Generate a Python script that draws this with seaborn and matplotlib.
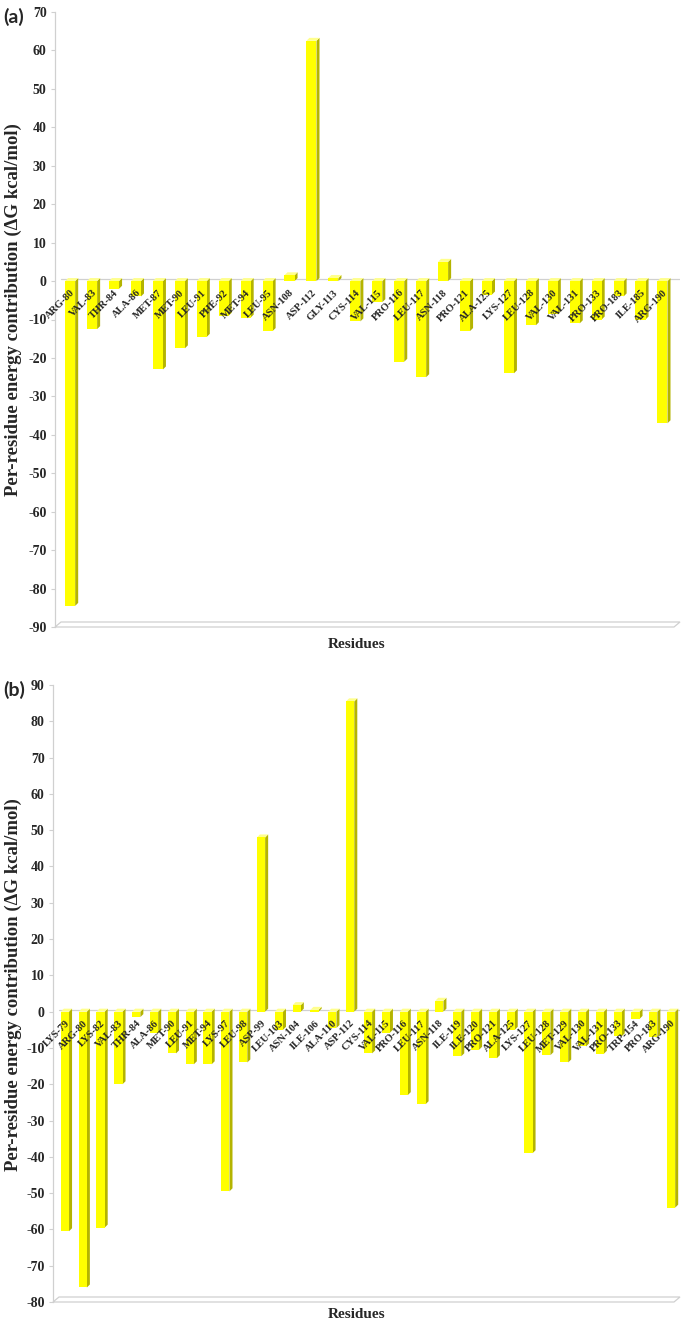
import matplotlib
matplotlib.use("Agg")
import matplotlib.pyplot as plt
from matplotlib.patches import Polygon
import seaborn as sns
import pandas as pd

# panel (a)
residues_a = ["ARG-80", "VAL-83", "THR-84", "ALA-86", "MET-87", "MET-90", "LEU-91",
              "PHE-92", "MET-94", "LEU-95", "ASN-108", "ASP-112", "GLY-113", "CYS-114",
              "VAL-115", "PRO-116", "LEU-117", "ASN-118", "PRO-121", "ALA-125", "LYS-127",
              "LEU-128", "VAL-130", "VAL-131", "PRO-133", "PRO-183", "ILE-185", "ARG-190"]
energy_a = [-84.5, -12.5, -2.0, -4.0, -23.0, -17.5, -14.5,
            -9.0, -9.5, -13.0, 1.5, 62.5, 0.8, -10.5,
            -5.5, -21.0, -25.0, 5.0, -13.0, -3.5, -24.0,
            -11.5, -8.5, -11.0, -10.0, -4.0, -10.0, -37.0]

# panel (b)
residues_b = ["LYS-79", "ARG-80", "LYS-82", "VAL-83", "THR-84", "ALA-86", "MET-90",
              "LEU-91", "MET-94", "LYS-97", "LEU-98", "ASP-99", "LEU-103", "ASN-104",
              "ILE-106", "ALA-110", "ASP-112", "CYS-114", "VAL-115", "PRO-116", "LEU-117",
              "ASN-118", "ILE-119", "ILE-120", "PRO-121", "ALA-125", "LYS-127", "LEU-128",
              "MET-129", "VAL-130", "VAL-131", "PRO-133", "TRP-154", "PRO-183", "ARG-190"]
energy_b = [-60.5, -76.0, -59.5, -20.0, -1.5, -6.0, -11.5,
            -14.5, -14.5, -49.5, -14.0, 48.0, -5.0, 1.8,
            0.5, -4.5, 85.5, -11.5, -5.8, -23.0, -25.5,
            3.0, -12.3, -10.5, -12.8, -5.0, -39.0, -12.0,
            -14.0, -9.6, -11.6, -6.8, -2.0, -7.0, -54.0]

W, H = 683, 1323
FRONT = "#ffff00"
SIDE = "#b4b400"
TOP = "#ffff8c"
GREY = "#d0d0d0"

sns.set_style("white")
plt.rcParams["font.family"] = ["Liberation Serif", "DejaVu Serif"]
plt.rcParams["font.weight"] = "bold"
plt.rcParams["axes.unicode_minus"] = False

fig = plt.figure(figsize=(W / 100, H / 100), dpi=100)


def box(left, top, right, bottom):
    return [left / W, 1 - bottom / H, (right - left) / W, (bottom - top) / H]


def panel(rect, names, values, ylim, xlim, ticks, letter, letter_y, ylab_y, xlab_y):
    ax = fig.add_axes(rect)
    df = pd.DataFrame({"residue": names, "energy": values})
    sns.barplot(data=df, x="residue", y="energy", color=FRONT, saturation=1,
                width=0.46, linewidth=0, ax=ax, zorder=2)
    ax.set_ylim(*ylim)
    ax.set_xlim(*xlim)
    ax.set_yticks(ticks)
    ax.set_xlabel("")
    ax.set_ylabel("")

    # pixel -> data sizes for the fake 3-D depth
    p0 = ax.transData.transform((0, 0))
    p1 = ax.transData.transform((1, 1))
    ux = 1.0 / (p1[0] - p0[0])
    uy = 1.0 / (p1[1] - p0[1])
    d = 3.0
    for p in list(ax.patches):
        x0 = p.get_x()
        x1 = x0 + p.get_width()
        yb, yt = sorted([p.get_y(), p.get_y() + p.get_height()])
        side = [(x1, yb), (x1 + d * ux, yb + d * uy), (x1 + d * ux, yt + d * uy), (x1, yt)]
        top = [(x0, yt), (x0 + d * ux, yt + d * uy), (x1 + d * ux, yt + d * uy), (x1, yt)]
        ax.add_patch(Polygon(side, closed=True, facecolor=SIDE, edgecolor="none", zorder=1.9))
        ax.add_patch(Polygon(top, closed=True, facecolor=TOP, edgecolor="none", zorder=1.9))

    # back-wall zero line and floor
    fx, fy = 6 * ux, 5 * uy
    ax.plot([xlim[0] + fx, xlim[1]], [2 * uy, 2 * uy], color=GREY, lw=0.9, zorder=1)
    yb = ylim[0]
    floor = [(xlim[0], yb), (xlim[0] + fx, yb + fy), (xlim[1], yb + fy), (xlim[1] - fx, yb)]
    ax.add_patch(Polygon(floor, closed=True, facecolor="white", edgecolor=GREY,
                         lw=0.9, zorder=1, clip_on=False))

    for s in ["top", "right"]:
        ax.spines[s].set_visible(False)
    ax.spines["left"].set_color(GREY)
    ax.spines["left"].set_linewidth(0.9)
    ax.spines["bottom"].set_position(("data", 0))
    ax.spines["bottom"].set_visible(False)
    ax.xaxis.set_zorder(4)
    ax.tick_params(axis="y", which="both", left=True, length=3, color=GREY, width=0.8,
                   labelsize=10, pad=3)
    ax.tick_params(axis="x", length=0, pad=5, labelsize=7.5)
    for t in ax.get_xticklabels():
        t.set_rotation(45)
        t.set_ha("right")
        t.set_va("top")
        t.set_rotation_mode("anchor")
        t.set_fontweight("bold")
    for t in ax.get_yticklabels():
        t.set_fontweight("bold")

    fig.text(3 / W, 1 - letter_y / H, letter, family=["Lato", "DejaVu Sans"],
             fontsize=14, fontweight="bold", va="center", ha="left")
    fig.text(13 / W, 1 - ylab_y / H, "Per-residue energy contribution (\u0394G kcal/mol)",
             rotation=90, fontsize=13.5, fontweight="bold", va="center", ha="center")
    fig.text(357 / W, 1 - xlab_y / H, "Residues", fontsize=11, fontweight="bold",
             va="center", ha="center")
    return ax


panel(box(55, 12, 680, 627), residues_a, energy_a, (-90, 70), (-0.69, 27.8),
      range(-90, 71, 10), "(a)", 17, 310, 645)
panel(box(53, 685, 680, 1302), residues_b, energy_b, (-80, 90), (-0.67, 34.5),
      range(-80, 91, 10), "(b)", 690, 985, 1315)

fig.savefig("out.png", dpi=100)
